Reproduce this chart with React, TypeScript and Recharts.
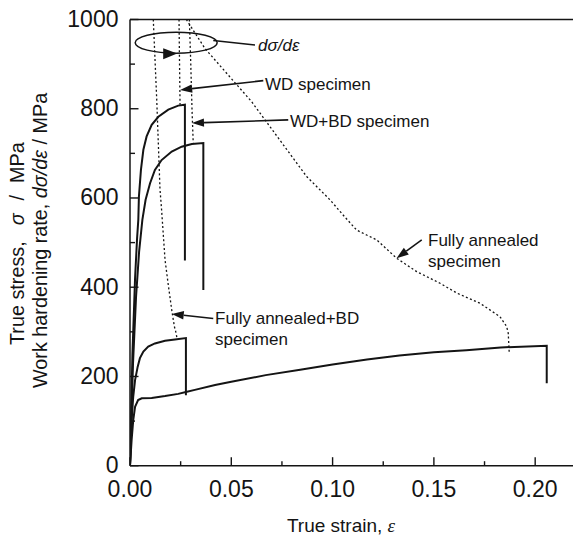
import React from 'react';
import { LineChart, Line, XAxis, YAxis, ReferenceLine, ReferenceDot } from 'recharts';

const FONT = '"Liberation Sans", Arial, Helvetica, sans-serif';
const INK = '#141414';

// ---- true stress curves (solid) ----
const wdStrain = [0, 0.0012, 0.0025, 0.0035, 0.0041, 0.0044, 0.0054, 0.0066, 0.0082, 0.0107, 0.014, 0.0189, 0.0238, 0.0271, 0.0271];
const wdStress = [0, 250, 420, 510, 551, 603, 663, 708, 738, 764, 782, 798, 807, 809, 460];

const wdbdStrain = [0, 0.0015, 0.003, 0.0045, 0.0061, 0.0077, 0.0099, 0.0123, 0.0156, 0.0206, 0.0255, 0.0305, 0.0362, 0.0362];
const wdbdStress = [0, 230, 380, 480, 551, 596, 633, 663, 685, 704, 715, 721, 723, 394];

const faBdStrain = [0, 0.0008, 0.0016, 0.0025, 0.0038, 0.0049, 0.0066, 0.009, 0.0123, 0.0173, 0.0222, 0.0276, 0.0276];
const faBdStress = [0, 102, 155, 192, 222, 241, 256, 267, 274, 280, 283, 286, 158];

const faStrain = [0, 0.0008, 0.0016, 0.0025, 0.004, 0.0058, 0.0107, 0.0173, 0.0238, 0.0276, 0.032, 0.042, 0.05, 0.067, 0.084, 0.1, 0.117, 0.133, 0.15, 0.166, 0.183, 0.2057, 0.2057];
const faStress = [0, 58, 102, 132, 147, 151, 152, 156, 161, 165, 170, 181, 188, 203, 215, 227, 238, 247, 254, 259, 265, 269, 185];

// ---- work hardening rate curves (dotted) ----
const wdRateStrain = [0.0242, 0.0244, 0.0246, 0.0247];
const wdRateValue = [1000, 920, 850, 809];

const wdbdRateStrain = [0.0293, 0.03, 0.0306, 0.0312];
const wdbdRateValue = [1000, 900, 800, 724];

const faBdRateStrain = [0.0115, 0.0132, 0.0148, 0.0156, 0.0173, 0.0189, 0.0206, 0.0219, 0.0226, 0.0232];
const faBdRateValue = [1000, 820, 620, 573, 461, 405, 349, 312, 300, 286];

const faRateStrain = [0.0278, 0.037, 0.06, 0.0872, 0.0987, 0.1065, 0.1119, 0.1168, 0.1218, 0.1316, 0.1415, 0.153, 0.1613, 0.1728, 0.1826, 0.1859, 0.1867, 0.1872];
const faRateValue = [1000, 935, 816, 648, 596, 555, 528, 517, 506, 465, 435, 409, 387, 364, 334, 312, 297, 252];

// ---- axes ----
const xMajorTicks = [0, 0.05, 0.1, 0.15, 0.2];
const xMinorTicks = [0.025, 0.075, 0.125, 0.175];
const xTickLabels = ['0.00', '0.05', '0.10', '0.15', '0.20'];
const yMajorTicks = [0, 200, 400, 600, 800, 1000];
const yMinorTicks = [100, 300, 500, 700, 900];
const yTickLabels = ['0', '200', '400', '600', '800', '1000'];

// ---- annotations ----
const labelWD = 'WD specimen';
const labelWDBD = 'WD+BD specimen';
const labelFABD = ['Fully annealed+BD', 'specimen'];
const labelFA = ['Fully annealed', 'specimen'];

const toPts = (xs: number[], ys: number[]) => xs.map((x, i) => ({ x, y: ys[i] }));

const XTick = (props: any) => {
  const { x, y, payload } = props;
  const idx = xMajorTicks.findIndex((t) => Math.abs(t - payload.value) < 1e-9);
  const major = idx >= 0;
  return (
    <g>
      <line x1={x} y1={y} x2={x} y2={y - (major ? 8.5 : 4.5)} stroke={INK} strokeWidth={1.4} />
      {major && (
        <text x={x} y={y + 31} textAnchor="middle" fontSize={23} fontFamily={FONT} fill={INK}>
          {xTickLabels[idx]}
        </text>
      )}
    </g>
  );
};

const YTick = (props: any) => {
  const { x, y, payload } = props;
  const idx = yMajorTicks.findIndex((t) => Math.abs(t - payload.value) < 1e-9);
  const major = idx >= 0;
  return (
    <g>
      <line x1={x} y1={y} x2={x + (major ? 8.5 : 5)} y2={y} stroke={INK} strokeWidth={1.4} />
      {major && (
        <text x={x - 11.5} y={y + 7.5} textAnchor="end" fontSize={23} fontFamily={FONT} fill={INK}>
          {yTickLabels[idx]}
        </text>
      )}
    </g>
  );
};

const Arrow = (props: any) => {
  const { x1, y1, x2, y2 } = props;
  const dx = x2 - x1;
  const dy = y2 - y1;
  const len = Math.sqrt(dx * dx + dy * dy) || 1;
  const ux = dx / len;
  const uy = dy / len;
  const L = 12;
  const W = 4.2;
  const bx = x2 - ux * L;
  const by = y2 - uy * L;
  return (
    <g>
      <line x1={x1} y1={y1} x2={bx} y2={by} stroke={INK} strokeWidth={1.6} />
      <polygon
        points={`${x2},${y2} ${bx - uy * W},${by + ux * W} ${bx + uy * W},${by - ux * W}`}
        fill={INK}
      />
    </g>
  );
};

const PlainLine = (props: any) => {
  const { x1, y1, x2, y2 } = props;
  return <line x1={x1} y1={y1} x2={x2} y2={y2} stroke={INK} strokeWidth={1.5} />;
};

const EllipseMark = (props: any) => {
  const { cx, cy } = props;
  return (
    <g>
      <ellipse cx={cx} cy={cy} rx={41} ry={10.5} fill="none" stroke={INK} strokeWidth={1.5} />
      <polygon points={`${cx - 13},${cy + 5.5} ${cx - 13},${cy + 16.5} ${cx + 1},${cy + 10.8}`} fill={INK} />
    </g>
  );
};

const textShape = (lines: string[]) => (props: any) => {
  const { cx, cy } = props;
  return (
    <text x={cx} y={cy} fontSize={17} fontFamily={FONT} fill={INK}>
      {lines.map((t, i) => (
        <tspan key={i} x={cx} y={cy + i * 21}>
          {t}
        </tspan>
      ))}
    </text>
  );
};

const DsdeText = (props: any) => {
  const { cx, cy } = props;
  return (
    <text x={cx} y={cy} fontSize={17} fontFamily={FONT} fill={INK} fontStyle="italic">
      dσ/dε
    </text>
  );
};

const YTitle = () => (
  <g fontFamily={FONT} fill={INK} fontSize={19.8}>
    <text transform="translate(24,345) rotate(-90)" textAnchor="start">
      <tspan>True stress,</tspan>
      <tspan dx={16} fontStyle="italic">σ</tspan>
      <tspan dx={13}>/</tspan>
      <tspan dx={12}>MPa</tspan>
    </text>
    <text transform="translate(47,388) rotate(-90)" textAnchor="start">
      Work hardening rate, <tspan fontStyle="italic">dσ/dε</tspan> / MPa
    </text>
  </g>
);

const XTitle = () => (
  <text x={341} y={532} textAnchor="middle" fontFamily={FONT} fill={INK} fontSize={19}>
    True strain, <tspan fontStyle="italic" fontFamily='"Liberation Serif", serif'>ε</tspan>
  </text>
);

export default function App() {
  const solid = { stroke: INK, strokeWidth: 2, dot: false, isAnimationActive: false, type: 'linear' as const };
  const dotted = { stroke: INK, strokeWidth: 1.3, strokeDasharray: '2 2.4', dot: false, isAnimationActive: false, type: 'linear' as const };
  return (
    <div style={{ position: 'absolute', left: 0, top: 0, width: 573, height: 540, overflow: 'hidden', background: '#fff' }}>
      <LineChart width={590} height={540} margin={{ top: 19.5, right: 14.3, bottom: 34.3, left: 70 }}>
        <XAxis
          type="number"
          dataKey="x"
          domain={[0, 0.22]}
          allowDataOverflow
          ticks={[...xMajorTicks, ...xMinorTicks].sort((a, b) => a - b)}
          interval={0}
          tickSize={0}
          tickMargin={0}
          tickLine={false}
          tick={(p: any) => <XTick {...p} />}
          axisLine={{ stroke: INK, strokeWidth: 1.5 }}
          height={40}
          label={{ content: () => <XTitle /> }}
        />
        <YAxis
          type="number"
          dataKey="y"
          domain={[0, 1000]}
          allowDataOverflow
          ticks={[...yMajorTicks, ...yMinorTicks].sort((a, b) => a - b)}
          interval={0}
          tickSize={0}
          tickMargin={0}
          tickLine={false}
          tick={(p: any) => <YTick {...p} />}
          axisLine={{ stroke: INK, strokeWidth: 1.5 }}
          width={60}
          label={{ content: () => <YTitle /> }}
        />
        <ReferenceLine y={1000} stroke={INK} strokeWidth={1.5} ifOverflow="visible" />
        <ReferenceLine x={0.22} stroke={INK} strokeWidth={1.5} ifOverflow="visible" />

        <Line data={toPts(wdStrain, wdStress)} dataKey="y" {...solid} />
        <Line data={toPts(wdbdStrain, wdbdStress)} dataKey="y" {...solid} />
        <Line data={toPts(faBdStrain, faBdStress)} dataKey="y" {...solid} />
        <Line data={toPts(faStrain, faStress)} dataKey="y" {...solid} />

        <Line data={toPts(wdRateStrain, wdRateValue)} dataKey="y" {...dotted} />
        <Line data={toPts(wdbdRateStrain, wdbdRateValue)} dataKey="y" {...dotted} />
        <Line data={toPts(faBdRateStrain, faBdRateValue)} dataKey="y" {...dotted} />
        <Line data={toPts(faRateStrain, faRateValue)} dataKey="y" {...dotted} />

        <ReferenceDot x={0.0228} y={948} r={0} ifOverflow="visible" shape={(p: any) => <EllipseMark {...p} />} />
        <ReferenceLine segment={[{ x: 0.0411, y: 953 }, { x: 0.0617, y: 943 }]} ifOverflow="visible" shape={(p: any) => <PlainLine {...p} />} />
        <ReferenceDot x={0.0632} y={930} r={0} ifOverflow="visible" shape={(p: any) => <DsdeText {...p} />} />

        <ReferenceLine segment={[{ x: 0.0658, y: 863 }, { x: 0.0247, y: 842 }]} ifOverflow="visible" shape={(p: any) => <Arrow {...p} />} />
        <ReferenceDot x={0.0666} y={842} r={0} ifOverflow="visible" shape={textShape([labelWD])} />

        <ReferenceLine segment={[{ x: 0.0781, y: 775 }, { x: 0.0306, y: 768 }]} ifOverflow="visible" shape={(p: any) => <Arrow {...p} />} />
        <ReferenceDot x={0.079} y={759} r={0} ifOverflow="visible" shape={textShape([labelWDBD])} />

        <ReferenceLine segment={[{ x: 0.0411, y: 330 }, { x: 0.0206, y: 340 }]} ifOverflow="visible" shape={(p: any) => <Arrow {...p} />} />
        <ReferenceDot x={0.042} y={318} r={0} ifOverflow="visible" shape={textShape(labelFABD)} />

        <ReferenceLine segment={[{ x: 0.144, y: 506 }, { x: 0.1316, y: 465 }]} ifOverflow="visible" shape={(p: any) => <Arrow {...p} />} />
        <ReferenceDot x={0.1471} y={493} r={0} ifOverflow="visible" shape={textShape(labelFA)} />
      </LineChart>
    </div>
  );
}
